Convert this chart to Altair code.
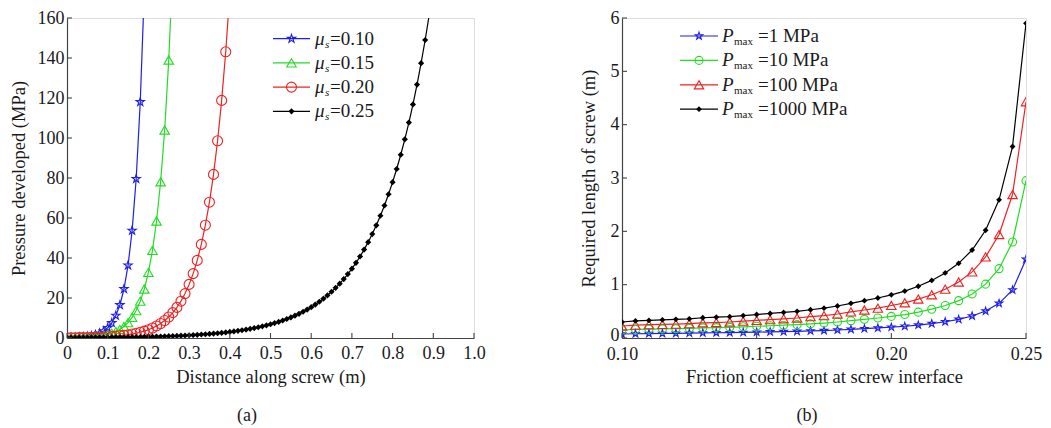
import altair as alt
import pandas as pd

FONT = "Liberation Serif"

# ---------------- Panel (a): pressure vs distance ----------------
names_a = ["0.10", "0.15", "0.20", "0.25"]
colors_a = ["#1f1fe6", "#22dd22", "#ee2222", "#000000"]

x_blue = [i / 100 for i in range(20)]
p_blue = [0.10, 0.148, 0.219, 0.325, 0.481, 0.713, 1.06, 1.57, 2.32, 3.44,
          5.09, 7.54, 11.2, 16.5, 24.5, 36.3, 53.7, 79.6, 118, 174]

x_green = [i / 100 for i in range(27)]
p_green = [0.10, 0.134, 0.178, 0.238, 0.318, 0.425, 0.568, 0.759, 1.01, 1.35,
           1.81, 2.42, 3.23, 4.31, 5.76, 7.70, 10.3, 13.7, 18.4, 24.5,
           32.8, 43.8, 58.5, 78.1, 104, 139, 186]

x_red = [i / 100 for i in range(41)]
p_red = [0.10, 0.12, 0.145, 0.175, 0.211, 0.254, 0.306, 0.368, 0.444, 0.535,
         0.644, 0.776, 0.935, 1.13, 1.36, 1.64, 1.97, 2.37, 2.86, 3.45,
         4.15, 5.00, 6.03, 7.26, 8.75, 10.5, 12.7, 15.3, 18.4, 22.2,
         26.8, 32.2, 38.8, 46.8, 56.4, 67.9, 81.8, 98.6, 118.8, 143.1, 172.4]

x_black = [i / 100 for i in range(90)]
p_black = [0.12, 0.13, 0.14, 0.15, 0.16, 0.18, 0.19, 0.21, 0.23, 0.25,
           0.27, 0.29, 0.32, 0.34, 0.37, 0.40, 0.44, 0.48, 0.52, 0.56,
           0.60, 0.66, 0.71, 0.77, 0.84, 0.91, 0.98, 1.06, 1.15, 1.25,
           1.36, 1.47, 1.60, 1.73, 1.88, 2.03, 2.21, 2.39, 2.59, 2.81,
           3.05, 3.31, 3.59, 3.89, 4.22, 4.57, 4.96, 5.38, 5.83, 6.32,
           6.86, 7.44, 8.06, 8.74, 9.48, 10.28, 11.15, 12.09, 13.11, 14.22,
           15.42, 16.72, 18.13, 19.66, 21.32, 23.12, 25.07, 27.18, 29.47, 31.96,
           34.66, 37.58, 40.76, 44.19, 47.92, 51.97, 56.35, 61.11, 66.26, 71.86,
           77.92, 84.49, 91.62, 99.35, 107.7, 116.8, 126.7, 137.4, 149.0, 161.6]

x_ticks_a = [0, 0.1, 0.2, 0.3, 0.4, 0.5, 0.6, 0.7, 0.8, 0.9, 1.0]
y_ticks_a = [0, 20, 40, 60, 80, 100, 120, 140, 160]

# ---------------- Panel (b): length vs friction ----------------
names_b = ["1 MPa", "10 MPa", "100 MPa", "1000 MPa"]
colors_b = ["#1f1fe6", "#22dd22", "#ee2222", "#000000"]

mu = [0.100, 0.105, 0.110, 0.115, 0.120, 0.125, 0.130, 0.135, 0.140, 0.145,
      0.150, 0.155, 0.160, 0.165, 0.170, 0.175, 0.180, 0.185, 0.190, 0.195,
      0.200, 0.205, 0.210, 0.215, 0.220, 0.225, 0.230, 0.235, 0.240, 0.245, 0.250]
L_1 = [0.075, 0.08, 0.083, 0.085, 0.088, 0.09, 0.095, 0.098, 0.10, 0.105,
       0.11, 0.115, 0.12, 0.125, 0.133, 0.14, 0.15, 0.163, 0.175, 0.188,
       0.203, 0.22, 0.243, 0.27, 0.305, 0.35, 0.413, 0.505, 0.65, 0.90, 1.475]
L_10 = [0.15, 0.16, 0.165, 0.17, 0.175, 0.18, 0.19, 0.195, 0.20, 0.21,
        0.22, 0.23, 0.24, 0.25, 0.265, 0.28, 0.30, 0.325, 0.35, 0.375,
        0.405, 0.44, 0.485, 0.54, 0.61, 0.70, 0.825, 1.01, 1.30, 1.80, 2.95]
L_100 = [0.225, 0.24, 0.25, 0.255, 0.26, 0.27, 0.285, 0.29, 0.30, 0.315,
         0.33, 0.345, 0.36, 0.375, 0.40, 0.42, 0.45, 0.49, 0.525, 0.56,
         0.61, 0.66, 0.73, 0.81, 0.915, 1.05, 1.24, 1.52, 1.94, 2.69, 4.43]
L_1000 = [0.30, 0.32, 0.33, 0.34, 0.35, 0.36, 0.38, 0.39, 0.40, 0.42,
          0.44, 0.46, 0.48, 0.50, 0.53, 0.56, 0.60, 0.65, 0.70, 0.75,
          0.81, 0.88, 0.97, 1.08, 1.22, 1.40, 1.65, 2.02, 2.59, 3.59, 5.90]

x_ticks_b = [0.10, 0.15, 0.20, 0.25]
y_ticks_b = [0, 1, 2, 3, 4, 5, 6]

STAR = ("M0,-1L0.2245,-0.309L0.951,-0.309L0.363,0.118L0.588,0.809L0,0.382"
        "L-0.588,0.809L-0.363,0.118L-0.951,-0.309L-0.2245,-0.309Z")
shapes = [STAR, "triangle-up", "circle", "diamond"]

W_A, W_B, H = 407, 404, 320
AXIS_COLOR = "#444444"
TXT = "#1a1a1a"


def axis(title, values, tpad, lpad, fmt=None, expr=None, loff=None):
    kw = dict(title=title, values=values, ticks=False, grid=False,
              domainColor=AXIS_COLOR, domainWidth=1.2,
              labelFont=FONT, labelFontSize=18, labelColor=TXT,
              titleFont=FONT, titleFontSize=18.5, titleFontWeight="normal",
              titleColor=TXT, labelPadding=lpad, titlePadding=tpad,
              labelOverlap=False, labelFlush=False)
    if loff is not None:
        kw["labelOffset"] = loff
    if fmt:
        kw["format"] = fmt
    if expr:
        kw["labelExpr"] = expr
    return alt.Axis(**kw)


def panel(series, names, colors, pshapes, sizes, fills, x_dom, y_dom,
          x_axis, y_axis, xt, yt, width, legend_cfg, caption, cap_x):
    frames = []
    for nm, (xs, ys) in zip(names, series):
        frames.append(pd.DataFrame({"x": xs, "y": ys, "s": nm}))
    df = pd.concat(frames, ignore_index=True)

    xs_ = alt.Scale(domain=x_dom, nice=False, zero=False)
    ys_ = alt.Scale(domain=y_dom, nice=False)
    X = alt.X("x:Q", scale=xs_, axis=x_axis)
    Y = alt.Y("y:Q", scale=ys_, axis=y_axis)
    col = alt.Color("s:N", scale=alt.Scale(domain=names, range=colors), legend=None)

    layers = [alt.Chart(df).mark_line(clip=True, strokeWidth=1.2).encode(X, Y, col, detail="s:N")]
    for nm, c, shp, sz, fl in zip(names, colors, pshapes, sizes, fills):
        sub = df[df["s"] == nm]
        layers.append(
            alt.Chart(sub).mark_point(clip=True, shape=shp, size=sz, filled=fl,
                                      color=c, strokeWidth=1.1, opacity=1)
            .encode(X, Y))

    # inward ticks
    layers.append(alt.Chart(pd.DataFrame({"x": xt})).mark_rule(color=AXIS_COLOR, strokeWidth=1.1)
                  .encode(X, y=alt.value(H), y2=alt.value(H - 5)))
    layers.append(alt.Chart(pd.DataFrame({"y": yt})).mark_rule(color=AXIS_COLOR, strokeWidth=1.1)
                  .encode(Y, x=alt.value(0), x2=alt.value(5)))

    # custom legend
    lg = legend_cfg
    for i, (lbl, c, shp, sz, fl) in enumerate(zip(lg["labels"], colors, pshapes, lg["sizes"], fills)):
        yy = lg["y0"] + i * lg["dy"]
        one = pd.DataFrame({"t": [lbl]})
        layers.append(alt.Chart(one).mark_rule(color=c, strokeWidth=1.2)
                      .encode(x=alt.value(lg["x0"]), x2=alt.value(lg["x1"]), y=alt.value(yy)))
        layers.append(alt.Chart(one).mark_point(shape=shp, size=sz, filled=fl, color=c,
                                                strokeWidth=1.1, opacity=1)
                      .encode(x=alt.value((lg["x0"] + lg["x1"]) / 2), y=alt.value(yy)))
        layers.append(alt.Chart(one).mark_text(font=FONT, fontSize=19, fontStyle="italic",
                                               align="left", baseline="middle", color=TXT)
                      .encode(x=alt.value(lg["sym_x"]), y=alt.value(yy), text=alt.value(lg["sym"])))
        layers.append(alt.Chart(one).mark_text(font=FONT, fontSize=lg["sub_size"],
                                               fontStyle=lg["sub_style"],
                                               align="left", baseline="middle", color=TXT)
                      .encode(x=alt.value(lg["sub_x"]), y=alt.value(yy + 6), text=alt.value(lg["sub"])))
        layers.append(alt.Chart(one).mark_text(font=FONT, fontSize=19,
                                               align="left", baseline="middle", color=TXT)
                      .encode(x=alt.value(lg["txt_x"]), y=alt.value(yy), text="t:N"))

    layers.append(alt.Chart(pd.DataFrame({"t": [caption]})).mark_text(
        font=FONT, fontSize=18, align="center", baseline="middle", color=TXT)
        .encode(x=alt.value(cap_x), y=alt.value(H + 78), text="t:N"))

    return alt.layer(*layers).properties(width=width, height=H)


chart_a = panel(
    [(x_blue, p_blue), (x_green, p_green), (x_red, p_red), (x_black, p_black)],
    names_a, colors_a, shapes, [75, 90, 100, 38], [False, False, False, True],
    [0, 1], [0, 160],
    axis("Distance along screw (m)", x_ticks_a, 5, 6,
         expr="datum.value == 0 ? '0' : format(datum.value, '.1f')"),
    axis("Pressure developed (MPa)", y_ticks_a, 9, 3),
    x_ticks_a, y_ticks_a, W_A,
    dict(labels=["=0.10", "=0.15", "=0.20", "=0.25"], sizes=[75, 90, 100, 38],
         y0=20.7, dy=24.2, x0=206, x1=243, sym="μ", sym_x=248,
         sub="s", sub_x=258, sub_size=11, sub_style="italic", txt_x=263),
    "(a)", 180)

zero_up = {"condition": {"test": "datum.value === 0", "value": -3}, "value": 0}

chart_b = panel(
    [(mu, L_1), (mu, L_10), (mu, L_100), (mu, L_1000)],
    names_b, colors_b, [STAR, "circle", "triangle-up", "diamond"],
    [60, 64, 90, 34], [False, False, False, True],
    [0.10, 0.25], [0, 6],
    axis("Friction coefficient at screw interface", x_ticks_b, 4, 7, fmt=".2f"),
    axis("Required length of screw (m)", y_ticks_b, 12, 3, fmt="d", loff=zero_up),
    x_ticks_b, y_ticks_b, W_B,
    dict(labels=["=1 MPa", "=10 MPa", "=100 MPa", "=1000 MPa"], sizes=[60, 64, 90, 34],
         y0=18, dy=24.4, x0=58, x1=96, sym="P", sym_x=100,
         sub="max", sub_x=112, sub_size=11, sub_style="normal", txt_x=136),
    "(b)", 185)

chart = (alt.hconcat(chart_a, chart_b, spacing=92)
         .configure_view(stroke=None)
         .configure(padding={"left": 0, "top": 0, "right": 0, "bottom": 0},
                    background="white"))

chart.save("out.html", embed_options={"renderer": "svg", "actions": False})
